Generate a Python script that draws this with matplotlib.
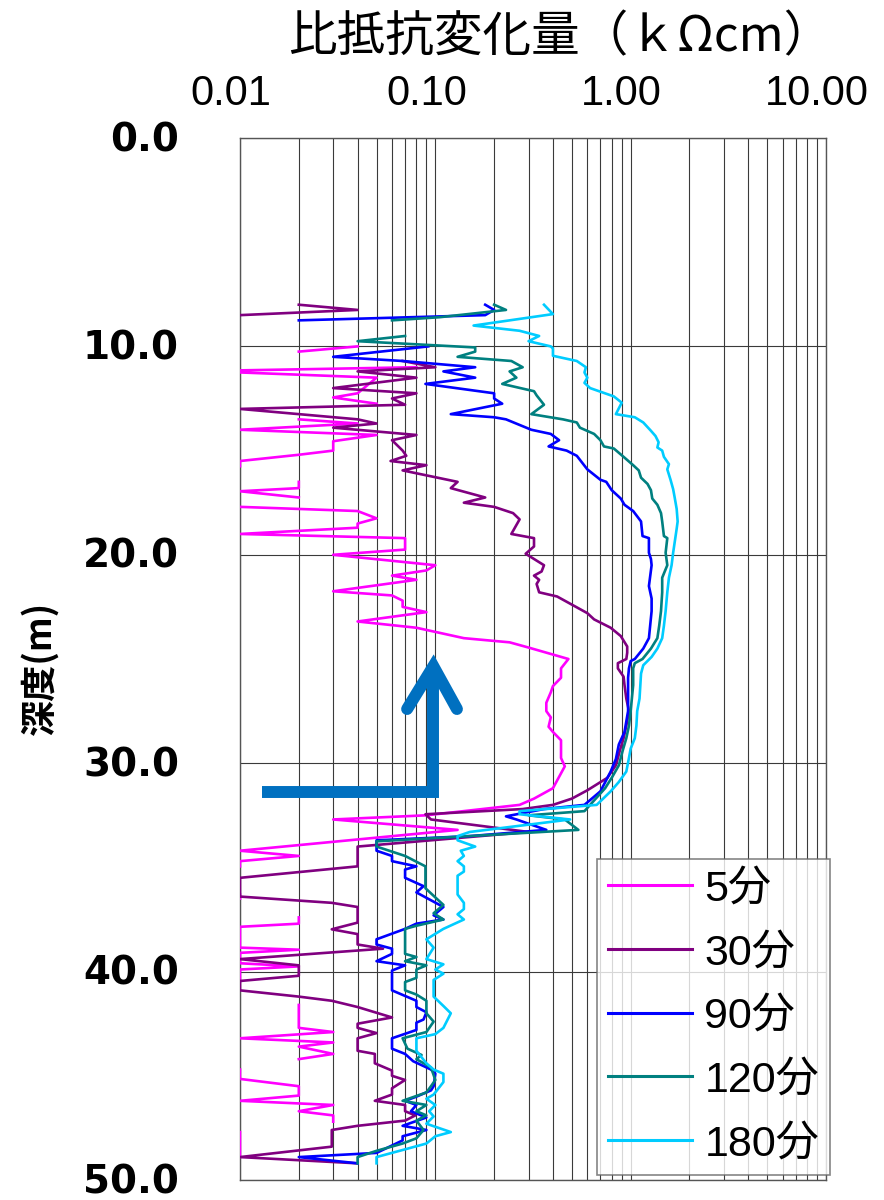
import numpy as np
import matplotlib
matplotlib.use("Agg")
import matplotlib.pyplot as plt
from matplotlib.ticker import FixedLocator, NullFormatter, LogLocator
from matplotlib.transforms import ScaledTranslation

plt.rcParams['font.family'] = ['Noto Sans CJK JP', 'DejaVu Sans']

nan = np.nan

# (depth m, resistivity change kOhm-cm); nan breaks the line
s5 = [(10.0, 0.04), (10.25, 0.02), (10.5, nan), (11.0, 0.08), (11.15, 0.01), (11.25, 0.01),
      (11.5, 0.05), (12.25, 0.04), (12.45, 0.03), (12.75, 0.05), (13.0, nan), (13.5, 0.02),
      (13.7, 0.04), (14.0, 0.01), (14.25, 0.05), (14.55, 0.03), (15.0, 0.03), (15.2, 0.02),
      (15.5, 0.01), (15.75, 0.01), (16.0, nan), (16.5, 0.02), (16.8, 0.02), (16.95, 0.01),
      (17.25, 0.02), (17.5, nan), (17.7, 0.01), (17.9, 0.04), (18.25, 0.05), (18.5, 0.04),
      (18.7, 0.04), (19.0, 0.01), (19.2, 0.07), (19.75, 0.07), (20.0, 0.03), (20.5, 0.10),
      (20.75, 0.09), (21.0, 0.06), (21.2, 0.08), (21.75, 0.03), (21.95, 0.06), (22.2, 0.068),
      (22.5, 0.068), (22.75, 0.09), (23.2, 0.04), (23.5, 0.08), (24.0, 0.14), (24.2, 0.24),
      (24.45, 0.30), (25.0, 0.48), (25.45, 0.44), (25.9, 0.44), (26.3, 0.40), (26.6, 0.39),
      (27.1, 0.37), (27.5, 0.37), (27.8, 0.39), (28.25, 0.38), (28.5, 0.40), (28.9, 0.44),
      (29.75, 0.44), (30.15, 0.46), (31.2, 0.40), (31.7, 0.32), (32.0, 0.27), (32.5, 0.09),
      (32.7, 0.03), (33.2, 0.13), (34.2, 0.01), (34.45, 0.02), (34.7, 0.01), (34.95, 0.01),
      (35.5, nan), (36.3, 0.01), (36.5, 0.01), (37.0, nan), (37.4, 0.02), (37.7, 0.02),
      (37.85, 0.01), (38.85, 0.01), (38.95, 0.02), (39.1, 0.01), (39.6, 0.01), (39.75, 0.02),
      (39.9, 0.01), (40.45, 0.01), (41.0, nan), (41.6, 0.02), (42.7, 0.02), (42.9, 0.03),
      (43.2, 0.01), (43.4, 0.03), (43.6, 0.02), (43.95, 0.03), (44.2, 0.02), (44.5, nan),
      (44.7, 0.01), (45.15, 0.01), (45.5, 0.02), (45.95, 0.02), (46.2, 0.01), (46.4, 0.03),
      (46.7, 0.02), (46.9, 0.03), (47.2, 0.03), (47.5, nan), (47.7, 0.01), (48.9, 0.01)]

s30 = [(8.0, 0.02), (8.25, 0.04), (8.5, 0.01), (9.0, nan), (10.7, 0.068), (11.0, 0.10),
       (11.2, 0.04), (11.5, 0.08), (12.0, 0.03), (12.25, 0.08), (12.5, 0.06), (12.8, 0.07),
       (13.0, 0.01), (13.5, 0.04), (13.7, 0.05), (13.9, 0.03), (14.25, 0.08), (14.5, 0.06),
       (15.0, 0.068), (15.25, 0.071), (15.5, 0.059), (15.7, 0.09), (15.95, 0.068), (16.5, 0.13),
       (16.8, 0.12), (17.25, 0.18), (17.5, 0.14), (17.7, 0.20), (18.0, 0.25), (18.3, 0.27),
       (19.0, 0.245), (19.2, 0.32), (19.6, 0.32), (19.95, 0.29), (20.5, 0.36), (20.8, 0.35),
       (21.0, 0.32), (21.2, 0.34), (21.4, 0.33), (21.8, 0.34), (22.0, 0.42), (22.8, 0.60),
       (23.1, 0.65), (23.5, 0.79), (23.9, 0.89), (24.4, 0.96), (24.7, 0.96), (25.0, 0.95),
       (25.2, 0.86), (25.45, 0.86), (25.85, 0.92), (26.25, 0.93), (26.9, 0.95), (27.5, 0.98),
       (28.2, 0.95), (28.8, 0.92), (29.4, 0.88), (30.1, 0.84), (30.7, 0.76), (31.3, 0.60),
       (31.7, 0.50), (32.0, 0.40), (32.2, 0.28), (32.45, 0.089), (32.7, 0.095), (33.3, 0.30),
       (34.0, 0.04), (34.95, 0.04), (35.5, 0.01), (36.4, 0.01), (36.7, 0.0295), (36.9, 0.04),
       (37.65, 0.04), (37.97, 0.0295), (38.2, 0.04), (38.7, 0.04), (38.9, 0.054), (39.4, 0.01),
       (39.7, 0.02), (40.2, 0.02), (40.45, 0.01), (40.9, 0.01), (41.2, 0.02), (41.4, 0.0295),
       (41.7, 0.04), (42.2, 0.06), (42.5, 0.04), (42.7, 0.04), (42.95, 0.05), (43.2, 0.04),
       (43.8, 0.04), (43.95, 0.049), (44.4, 0.049), (44.75, 0.06), (45.0, 0.06), (45.2, 0.07),
       (45.6, 0.06), (45.9, 0.06), (46.2, 0.049), (46.4, 0.07), (46.7, 0.07), (46.9, 0.079),
       (47.15, 0.07), (47.4, 0.04), (47.6, 0.0295), (48.4, 0.0295), (48.9, 0.01), (49.2, 0.04)]

s90 = [(8.0, 0.18), (8.25, 0.20), (8.5, 0.18), (8.75, 0.02), (9.0, nan), (10.0, 0.092),
       (10.5, 0.03), (10.7, 0.068), (11.0, 0.16), (11.2, 0.11), (11.5, 0.16), (11.8, 0.089),
       (12.25, 0.20), (12.5, 0.20), (12.75, 0.22), (13.25, 0.12), (13.4, 0.20), (13.5, 0.23),
       (14.0, 0.31), (14.2, 0.39), (14.5, 0.43), (14.8, 0.38), (15.0, 0.47), (15.25, 0.53),
       (15.9, 0.60), (16.4, 0.70), (16.5, 0.75), (16.9, 0.80), (17.3, 0.89), (17.6, 0.93),
       (17.9, 1.03), (18.4, 1.13), (19.1, 1.15), (19.2, 1.24), (19.9, 1.24), (20.2, 1.27),
       (20.5, 1.28), (21.5, 1.24), (22.1, 1.28), (22.7, 1.28), (24.0, 1.24), (24.5, 1.16),
       (25.0, 1.05), (25.1, 1.0), (25.45, 0.98), (25.9, 0.97), (26.9, 0.97), (27.5, 0.97),
       (28.5, 0.93), (29.1, 0.87), (29.8, 0.84), (30.4, 0.79), (31.35, 0.70), (32.0, 0.58),
       (32.2, 0.36), (32.55, 0.23), (32.7, 0.26), (33.2, 0.37), (33.5, 0.15), (33.7, 0.05),
       (34.2, 0.05), (34.45, 0.06), (34.7, 0.06), (34.95, 0.08), (35.1, 0.07), (35.5, 0.07),
       (35.9, 0.087), (36.2, 0.08), (36.9, 0.11), (37.3, 0.098), (37.5, 0.11), (37.7, 0.08),
       (37.95, 0.07), (38.45, 0.05), (38.7, 0.05), (38.9, 0.06), (39.15, 0.06), (39.5, 0.05),
       (39.7, 0.07), (39.95, 0.06), (40.9, 0.06), (41.4, 0.08), (41.7, 0.08), (41.95, 0.09),
       (42.3, 0.087), (42.45, 0.08), (42.8, 0.08), (43.2, 0.06), (43.7, 0.06), (43.95, 0.07),
       (44.3, 0.077), (44.7, 0.095), (44.9, 0.10), (45.5, 0.098), (45.7, 0.095), (46.0, 0.08),
       (46.2, 0.07), (46.4, 0.08), (46.7, 0.075), (47.0, 0.09), (47.4, 0.068), (47.6, 0.09),
       (47.9, 0.068), (48.1, 0.068), (48.7, 0.05), (48.9, 0.02), (49.2, 0.04)]

s120 = [(8.0, 0.20), (8.25, 0.23), (8.6, 0.105), (8.75, 0.06), (9.0, nan), (9.5, 0.07),
        (9.75, 0.04), (10.05, 0.16), (10.25, 0.16), (10.5, 0.13), (10.7, 0.245), (11.0, 0.28),
        (11.2, 0.24), (11.5, 0.26), (11.8, 0.22), (12.15, 0.32), (12.35, 0.33), (12.8, 0.36),
        (13.25, 0.31), (13.5, 0.45), (13.65, 0.53), (13.9, 0.55), (14.2, 0.65), (14.5, 0.70),
        (14.8, 0.73), (14.9, 0.82), (15.3, 0.92), (15.7, 1.03), (15.95, 1.10), (16.3, 1.13),
        (16.6, 1.22), (16.9, 1.27), (17.3, 1.29), (17.6, 1.37), (18.0, 1.43), (18.4, 1.45),
        (19.1, 1.48), (19.2, 1.54), (19.9, 1.51), (20.5, 1.54), (21.1, 1.45), (21.8, 1.45),
        (22.7, 1.43), (23.4, 1.40), (24.0, 1.37), (24.5, 1.27), (25.0, 1.15), (25.2, 1.05),
        (25.45, 1.03), (26.25, 1.03), (27.5, 1.0), (28.2, 0.98), (28.8, 0.95), (29.4, 0.91),
        (30.1, 0.87), (30.7, 0.80), (31.2, 0.74), (32.0, 0.62), (32.3, 0.58), (32.5, 0.30),
        (32.7, 0.46), (33.2, 0.54), (33.75, 0.05), (34.0, 0.05), (34.45, 0.07), (34.95, 0.089),
        (36.0, 0.089), (36.8, 0.11), (37.2, 0.098), (37.5, 0.11), (37.8, 0.08), (37.95, 0.07),
        (39.15, 0.07), (39.3, 0.08), (39.5, 0.07), (39.7, 0.09), (39.9, 0.08), (40.3, 0.08),
        (40.5, 0.07), (40.9, 0.07), (41.1, 0.08), (41.4, 0.09), (42.0, 0.09), (42.4, 0.098),
        (42.9, 0.09), (43.2, 0.068), (43.7, 0.072), (44.0, 0.085), (44.2, 0.08), (44.6, 0.095),
        (45.2, 0.10), (45.5, 0.095), (45.8, 0.09), (46.2, 0.068), (46.4, 0.09), (46.7, 0.08),
        (46.9, 0.09), (47.15, 0.08), (47.6, 0.087), (48.0, 0.08), (48.25, 0.068), (48.6, 0.05),
        (48.9, 0.04), (49.2, 0.04)]

s180 = [(8.0, 0.36), (8.45, 0.40), (9.0, 0.157), (9.25, 0.27), (9.5, 0.34), (9.75, 0.30),
        (10.0, 0.39), (10.1, 0.40), (10.45, 0.40), (10.7, 0.53), (11.0, 0.59), (11.25, 0.58),
        (11.5, 0.60), (11.75, 0.58), (12.0, 0.62), (12.4, 0.82), (12.7, 0.90), (13.25, 0.84),
        (13.4, 1.05), (13.65, 1.16), (14.05, 1.27), (14.3, 1.34), (14.6, 1.39), (14.85, 1.37),
        (15.0, 1.45), (15.3, 1.48), (15.65, 1.57), (15.9, 1.54), (16.4, 1.60), (16.85, 1.65),
        (17.25, 1.68), (17.8, 1.72), (18.4, 1.74), (18.75, 1.72), (19.4, 1.68), (19.9, 1.65),
        (20.5, 1.62), (21.1, 1.57), (21.8, 1.54), (22.7, 1.51), (23.4, 1.48), (24.0, 1.45),
        (24.5, 1.37), (24.9, 1.28), (25.3, 1.16), (25.7, 1.13), (26.9, 1.11), (27.5, 1.08),
        (28.2, 1.07), (28.8, 1.05), (29.3, 1.0), (29.75, 0.98), (30.4, 0.95), (30.9, 0.87),
        (31.35, 0.79), (32.0, 0.67), (32.3, 0.27), (32.45, 0.27), (32.7, 0.49), (33.3, 0.15),
        (33.5, 0.13), (33.7, 0.13), (34.0, 0.16), (34.2, 0.135), (34.45, 0.14), (34.7, 0.13),
        (34.95, 0.14), (35.2, 0.14), (35.4, 0.13), (36.3, 0.13), (36.7, 0.14), (37.0, 0.14),
        (37.25, 0.13), (37.5, 0.14), (37.95, 0.11), (38.45, 0.09), (38.85, 0.098), (39.4, 0.09),
        (39.65, 0.11), (39.9, 0.10), (40.1, 0.11), (40.4, 0.098), (41.2, 0.098), (41.65, 0.11),
        (42.0, 0.12), (42.7, 0.11), (43.0, 0.10), (43.2, 0.08), (43.8, 0.08), (44.4, 0.09),
        (44.7, 0.098), (44.9, 0.11), (45.3, 0.11), (45.9, 0.098), (46.1, 0.09), (46.4, 0.10),
        (46.7, 0.093), (46.95, 0.098), (47.3, 0.09), (47.7, 0.12), (47.9, 0.10), (48.25, 0.09),
        (48.9, 0.05), (49.2, 0.05)]

series = [s5, s30, s90, s120, s180]
labels = ['5分', '30分', '90分', '120分', '180分']
colors = ['#FF00FF', '#800080', '#0000FF', '#008080', '#00CCFF']

x_ticks = [0.01, 0.1, 1, 10]
x_ticklabels = ['0.01', '0.10', '1.00', '10.00']
y_ticks = [0, 10, 20, 30, 40, 50]

W, H = 884, 1200
fig = plt.figure(figsize=(W / 100, H / 100), dpi=100)
ax = fig.add_axes([240 / W, 1 - 1180 / H, (826 - 240) / W, (1180 - 138) / H])

for s, lab, c in zip(series, labels, colors):
    arr = np.array(s, dtype=float)
    ax.plot(arr[:, 1], arr[:, 0], color=c, lw=1.9, label=lab, zorder=3)

ax.set_xscale('log')
ax.set_xlim(0.01, 10)
ax.set_ylim(50, 0)

ax.xaxis.set_major_locator(FixedLocator(x_ticks))
ax.xaxis.set_minor_locator(LogLocator(base=10, subs=np.arange(2, 10)))
ax.xaxis.set_minor_formatter(NullFormatter())
ax.set_xticklabels(x_ticklabels, family=['Liberation Sans', 'DejaVu Sans'])
ax.xaxis.tick_top()
ax.set_yticks(y_ticks)
ax.set_yticklabels([f'{v:.1f}' for v in y_ticks], family='DejaVu Sans',
                   fontweight='bold')

ax.tick_params(axis='x', which='both', length=0, pad=17, labelsize=30)
ax.tick_params(axis='y', which='both', length=0, pad=44, labelsize=28)
shift = ScaledTranslation(-9 / 100, 0, fig.dpi_scale_trans)
for t in ax.get_xticklabels():
    t.set_transform(t.get_transform() + shift)
lift = ScaledTranslation(0, 2 / 100, fig.dpi_scale_trans)
for t in ax.get_yticklabels():
    t.set_transform(t.get_transform() + lift)

ax.grid(True, axis='x', which='both', color='#3a3a3a', lw=0.8)
ax.grid(True, axis='y', which='major', color='#3a3a3a', lw=0.8)
ax.set_axisbelow(True)
for sp in ax.spines.values():
    sp.set_color('#555555')
    sp.set_linewidth(1.0)

# blue marker arrow pointing upward
ax.plot([0.013, 0.0977, 0.0977], [31.4, 31.4, 25.6], color='#0070C0', lw=8.6,
        solid_capstyle='butt', solid_joinstyle='miter', zorder=4)
ax.plot([0.0717, 0.0977, 0.129], [27.4, 25.35, 27.4], color='#0070C0', lw=8.6,
        solid_capstyle='round', solid_joinstyle='miter', zorder=4)

leg = ax.legend(loc='lower right', bbox_to_anchor=(830 / W, 1 - 1175 / H),
                bbox_transform=fig.transFigure, frameon=True, fancybox=False,
                prop={'family': ['Liberation Sans', 'Noto Sans CJK JP'], 'size': 31},
                handlelength=1.95, handletextpad=0.3, labelspacing=0.55,
                borderpad=0.25, borderaxespad=0)
leg.get_frame().set_edgecolor('#666666')
leg.get_frame().set_linewidth(1.2)
for ln in leg.get_lines():
    ln.set_linewidth(2.2)

fig.text(560 / W, 1 - 38 / H, '比抵抗変化量（ｋΩcm）', ha='center', va='center',
         fontsize=35)
fig.text(40 / W, 1 - 668 / H, '深度(m)', ha='center', va='center', rotation=90,
         fontsize=26, fontweight='bold')

fig.savefig('out.png', dpi=100)
